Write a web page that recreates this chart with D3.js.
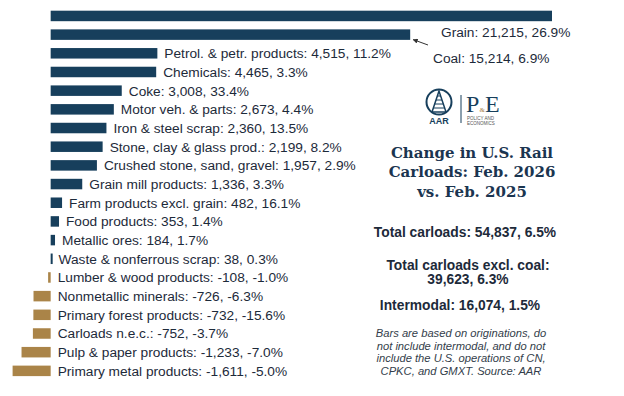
<!DOCTYPE html>
<html>
<head>
<meta charset="utf-8">
<script src="https://cdn.jsdelivr.net/npm/d3@7"></script>
<style>
  body { margin: 0; background: #fff; }
  svg { display: block; font-family: "Liberation Sans", Arial, sans-serif; }
</style>
</head>
<body>
<div id="chart"></div>
<script>
// chart data
var categories = ["Grain", "Coal", "Petrol. & petr. products", "Chemicals", "Coke",
  "Motor veh. & parts", "Iron & steel scrap", "Stone, clay & glass prod.",
  "Crushed stone, sand, gravel", "Grain mill products", "Farm products excl. grain",
  "Food products", "Metallic ores", "Waste & nonferrous scrap", "Lumber & wood products",
  "Nonmetallic minerals", "Primary forest products", "Carloads n.e.c.",
  "Pulp & paper products", "Primary metal products"];
var changes = [21215, 15214, 4515, 4465, 3008, 2673, 2360, 2199, 1957, 1336, 482,
  353, 184, 38, -108, -726, -732, -752, -1233, -1611];
var pctChanges = [26.9, 6.9, 11.2, 3.3, 33.4, 4.4, 13.5, 8.2, 2.9, 3.3, 16.1,
  1.4, 1.7, 0.3, -1.0, -6.3, -15.6, -3.7, -7.0, -5.0];

var titleLines = ["Change in U.S. Rail", "Carloads: Feb. 2026", "vs. Feb. 2025"];
var summaryLines = ["Total carloads: 54,837, 6.5%", "Total carloads excl. coal:",
  "39,623, 6.3%", "Intermodal: 16,074, 1.5%"];
var noteLines = ["Bars are based on originations, do", "not include intermodal, and do not",
  "include the U.S. operations of CN,", "CPKC, and GMXT. Source: AAR"];

var svgWidth = 624;
var svgHeight = 396;
var navy = "#173f5c";
var gold = "#aa8448";
var textColor = "#1d2a3a";

// d3 v7 uses a unicode minus by default, the chart uses a plain hyphen
var fmt = d3.formatLocale({decimal: ".", thousands: ",", grouping: [3], currency: ["$", ""], minus: "-"});
var num = fmt.format(",");
var pct = fmt.format(".1f");

var data = categories.map(function(c, i) {
  return {name: c, value: changes[i], pct: pctChanges[i]};
});

var svg = d3.select("#chart")
  .append("svg")
  .attr("width", svgWidth)
  .attr("height", svgHeight);

// scales
var x = d3.scaleLinear()
  .domain([d3.min(changes), d3.max(changes)])
  .range([12.6, 552]);

var y = d3.scaleBand()
  .domain(categories)
  .range([6.6, 380.2])
  .paddingInner(0.44)
  .paddingOuter(0.22);

var rowMid = d => y(d) + y.bandwidth() / 2;

var barsGroup = svg.append("g");

barsGroup.selectAll("rect")
  .data(data)
  .enter()
  .append("rect")
  .attr("x", d => x(Math.min(0, d.value)))
  .attr("y", d => rowMid(d.name) - 5.25)
  .attr("width", d => Math.max(2, Math.abs(x(d.value) - x(0))))
  .attr("height", 10.5)
  .attr("fill", d => d.value < 0 ? gold : navy);

function labelText(d) {
  return d.name + ": " + num(d.value) + ", " + pct(d.pct) + "%";
}

// regular labels (all but grain and coal)
svg.append("g").selectAll("text")
  .data(data.slice(2))
  .enter()
  .append("text")
  .attr("x", d => Math.max(x(d.value), x(0)) + 7)
  .attr("y", d => rowMid(d.name) + 4.9)
  .attr("font-size", "13.7px")
  .attr("fill", textColor)
  .text(labelText);

// grain label below its bar
svg.append("text")
  .attr("x", 441)
  .attr("y", rowMid("Grain") + 21)
  .attr("font-size", "13.7px")
  .attr("fill", textColor)
  .text(labelText(data[0]));

// coal label with arrow
svg.append("text")
  .attr("x", 433)
  .attr("y", rowMid("Coal") + 28)
  .attr("font-size", "13.7px")
  .attr("fill", textColor)
  .text(labelText(data[1]));

svg.append("defs").append("marker")
  .attr("id", "arrow")
  .attr("viewBox", "0 0 10 10")
  .attr("refX", 9).attr("refY", 5)
  .attr("markerWidth", 5).attr("markerHeight", 5)
  .attr("orient", "auto")
  .append("path")
  .attr("d", "M0,0 L10,5 L0,10 z")
  .attr("fill", "#333");

svg.append("line")
  .attr("x1", 428).attr("y1", 45)
  .attr("x2", x(changes[1]) + 3).attr("y2", rowMid("Coal") + 5)
  .attr("stroke", "#333")
  .attr("stroke-width", 1)
  .attr("marker-end", "url(#arrow)");

// logo
var logo = svg.append("g");
logo.append("circle")
  .attr("cx", 439).attr("cy", 102).attr("r", 12.5)
  .attr("fill", "none").attr("stroke", navy).attr("stroke-width", 2);
logo.append("path")
  .attr("d", "M439,91 L432,112 L446,112 Z")
  .attr("fill", "none").attr("stroke", navy).attr("stroke-width", 1.5);
[96, 100, 104, 108].forEach(function(yy) {
  var half = (yy - 91) / 3;
  logo.append("line")
    .attr("x1", 439 - half).attr("x2", 439 + half)
    .attr("y1", yy).attr("y2", yy)
    .attr("stroke", navy).attr("stroke-width", 1);
});
logo.append("text")
  .attr("x", 439).attr("y", 124)
  .attr("text-anchor", "middle")
  .attr("font-size", "9px").attr("font-weight", "bold")
  .attr("fill", navy)
  .text("AAR");
logo.append("line")
  .attr("x1", 461).attr("x2", 461).attr("y1", 95).attr("y2", 123)
  .attr("stroke", navy).attr("stroke-width", 1);
logo.append("text")
  .attr("x", 466).attr("y", 112)
  .attr("font-family", "'Liberation Serif', serif")
  .attr("font-size", "24px")
  .attr("fill", navy)
  .text("P");
logo.append("text")
  .attr("x", 479.5).attr("y", 112)
  .attr("font-family", "'Liberation Serif', serif")
  .attr("font-size", "7px")
  .attr("fill", gold)
  .text("&");
logo.append("text")
  .attr("x", 485).attr("y", 112)
  .attr("font-family", "'Liberation Serif', serif")
  .attr("font-size", "24px")
  .attr("fill", navy)
  .text("E");
logo.append("text")
  .attr("x", 467).attr("y", 119.5)
  .attr("font-size", "4.5px")
  .attr("fill", "#555")
  .text("POLICY AND");
logo.append("text")
  .attr("x", 467).attr("y", 125)
  .attr("font-size", "4.5px")
  .attr("fill", "#555")
  .text("ECONOMICS");

// title
svg.append("g").selectAll("text")
  .data(titleLines)
  .enter()
  .append("text")
  .attr("x", 472)
  .attr("y", (d, i) => 157.5 + i * 19.5)
  .attr("text-anchor", "middle")
  .attr("font-family", "'DejaVu Serif', 'Liberation Serif', serif")
  .attr("font-weight", "bold")
  .attr("font-size", "15px")
  .attr("fill", "#1b3550")
  .text(d => d);

// summary figures
var summaryY = [237, 270, 284, 310];
var summaryX = [465, 468, 468, 460];
svg.append("g").selectAll("text")
  .data(summaryLines)
  .enter()
  .append("text")
  .attr("x", (d, i) => summaryX[i])
  .attr("y", (d, i) => summaryY[i])
  .attr("text-anchor", "middle")
  .attr("font-weight", "bold")
  .attr("font-size", "13.8px")
  .attr("fill", textColor)
  .text(d => d);

// footnote
svg.append("g").selectAll("text")
  .data(noteLines)
  .enter()
  .append("text")
  .attr("x", 461)
  .attr("y", (d, i) => 337 + i * 12.5)
  .attr("text-anchor", "middle")
  .attr("font-style", "italic")
  .attr("font-size", "11.2px")
  .attr("fill", "#333d4a")
  .text(d => d);
</script>
</body>
</html>
